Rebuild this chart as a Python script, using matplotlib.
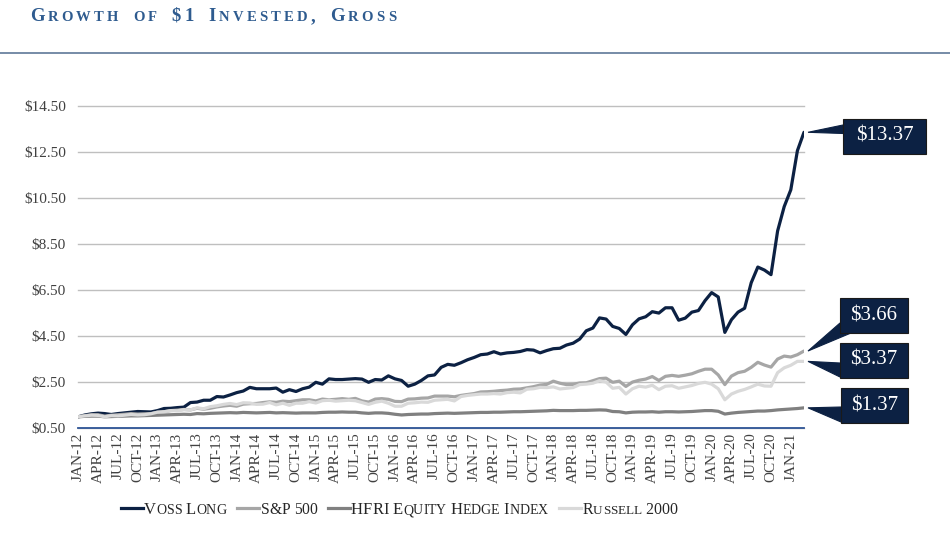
import matplotlib
matplotlib.use("Agg")
import matplotlib.pyplot as plt
from matplotlib.lines import Line2D
from matplotlib.patches import Polygon

# ---------------- data ----------------
month_names = ["JAN", "FEB", "MAR", "APR", "MAY", "JUN",
               "JUL", "AUG", "SEP", "OCT", "NOV", "DEC"]
categories = [f"{m}-{y:02d}" for y in range(12, 22) for m in month_names][:111]

voss_long = [
    1.00, 1.08, 1.13, 1.16, 1.14, 1.10, 1.14, 1.17, 1.20, 1.23, 1.22, 1.21,
    1.27, 1.36, 1.37, 1.40, 1.42, 1.62, 1.64, 1.72, 1.72, 1.88, 1.86, 1.95,
    2.05, 2.12, 2.28, 2.22, 2.22, 2.22, 2.25, 2.07, 2.18, 2.10, 2.22, 2.29,
    2.50, 2.42, 2.65, 2.62, 2.62, 2.64, 2.66, 2.64, 2.50, 2.62, 2.60, 2.78,
    2.65, 2.58, 2.33, 2.42, 2.58, 2.78, 2.82, 3.15, 3.28, 3.24, 3.35, 3.48,
    3.58, 3.70, 3.73, 3.83, 3.73, 3.78, 3.80, 3.84, 3.92, 3.90, 3.78, 3.88,
    3.96, 3.98, 4.12, 4.20, 4.38, 4.74, 4.86, 5.30, 5.25, 4.93, 4.84, 4.58,
    5.00, 5.26, 5.35, 5.57, 5.51, 5.74, 5.74, 5.20, 5.29, 5.55, 5.62, 6.05,
    6.40, 6.21, 4.67, 5.22, 5.55, 5.72, 6.83, 7.51, 7.38, 7.18, 9.08, 10.14,
    10.87, 12.57, 13.37,
]
sp500 = [
    1.00, 1.05, 1.09, 1.09, 1.03, 1.07, 1.09, 1.11, 1.14, 1.12, 1.13, 1.14,
    1.20, 1.22, 1.27, 1.29, 1.32, 1.30, 1.37, 1.33, 1.37, 1.43, 1.47, 1.50,
    1.46, 1.55, 1.57, 1.58, 1.62, 1.65, 1.63, 1.68, 1.66, 1.70, 1.74, 1.74,
    1.69, 1.77, 1.74, 1.76, 1.79, 1.76, 1.80, 1.69, 1.64, 1.77, 1.79, 1.76,
    1.67, 1.66, 1.77, 1.78, 1.81, 1.82, 1.90, 1.90, 1.90, 1.87, 1.93, 1.97,
    2.01, 2.08, 2.09, 2.11, 2.14, 2.16, 2.20, 2.21, 2.26, 2.31, 2.38, 2.41,
    2.55, 2.46, 2.40, 2.41, 2.47, 2.48, 2.57, 2.66, 2.68, 2.50, 2.55, 2.32,
    2.51, 2.59, 2.64, 2.75, 2.58, 2.76, 2.80, 2.76, 2.81, 2.87, 2.98, 3.07,
    3.07, 2.82, 2.40, 2.77, 2.92, 2.98, 3.15, 3.37, 3.25, 3.16, 3.51, 3.64,
    3.60, 3.70, 3.86,
]
hfri_equity_hedge = [
    1.00, 1.02, 1.03, 1.03, 1.00, 1.01, 1.02, 1.03, 1.04, 1.04, 1.05, 1.06,
    1.07, 1.08, 1.09, 1.10, 1.11, 1.10, 1.14, 1.13, 1.15, 1.16, 1.17, 1.18,
    1.17, 1.19, 1.18, 1.17, 1.18, 1.19, 1.17, 1.18, 1.17, 1.16, 1.17, 1.17,
    1.17, 1.19, 1.20, 1.20, 1.21, 1.20, 1.20, 1.17, 1.15, 1.17, 1.17, 1.15,
    1.11, 1.08, 1.10, 1.11, 1.12, 1.12, 1.14, 1.15, 1.16, 1.15, 1.16, 1.17,
    1.18, 1.19, 1.19, 1.20, 1.20, 1.21, 1.22, 1.22, 1.23, 1.24, 1.25, 1.26,
    1.28, 1.27, 1.27, 1.27, 1.28, 1.28, 1.29, 1.30, 1.29, 1.23, 1.22, 1.17,
    1.20, 1.21, 1.21, 1.22, 1.20, 1.22, 1.22, 1.21, 1.22, 1.23, 1.25, 1.27,
    1.27, 1.24, 1.12, 1.16, 1.19, 1.21, 1.23, 1.25, 1.25, 1.27, 1.30, 1.32,
    1.34, 1.36, 1.39,
]
russell_2000 = [
    1.00, 1.04, 1.07, 1.06, 1.00, 1.05, 1.04, 1.07, 1.10, 1.08, 1.09, 1.13,
    1.20, 1.22, 1.27, 1.26, 1.31, 1.30, 1.39, 1.35, 1.44, 1.48, 1.54, 1.58,
    1.53, 1.61, 1.60, 1.54, 1.55, 1.62, 1.52, 1.59, 1.50, 1.59, 1.59, 1.66,
    1.60, 1.70, 1.72, 1.68, 1.70, 1.72, 1.70, 1.62, 1.54, 1.63, 1.68, 1.59,
    1.46, 1.46, 1.59, 1.61, 1.64, 1.63, 1.72, 1.74, 1.76, 1.69, 1.88, 1.93,
    1.96, 1.99, 1.99, 2.01, 1.99, 2.05, 2.07, 2.04, 2.20, 2.22, 2.28, 2.27,
    2.30, 2.21, 2.24, 2.27, 2.40, 2.42, 2.46, 2.57, 2.51, 2.24, 2.28, 1.99,
    2.22, 2.33, 2.29, 2.37, 2.18, 2.33, 2.35, 2.24, 2.30, 2.36, 2.45, 2.50,
    2.42, 2.22, 1.74, 1.99, 2.11, 2.19, 2.30, 2.42, 2.34, 2.33, 2.92, 3.13,
    3.24, 3.41, 3.41,
]
series_names = ["Voss Long", "S&P 500", "HFRI Equity Hedge Index", "Russell 2000"]
callout_labels = ["$13.37", "$3.66", "$3.37", "$1.37"]
y_ticks = [0.5, 2.5, 4.5, 6.5, 8.5, 10.5, 12.5, 14.5]
title_text = "Growth of $1 Invested, Gross"

# ---------------- style ----------------
NAVY = "#0C2143"
COLORS = [NAVY, "#A6A6A6", "#808080", "#D9D9D9"]
SERIF = ["Liberation Serif", "DejaVu Serif"]
TXT = "#404040"

W, H = 950, 533
fig = plt.figure(figsize=(W / 100, H / 100), dpi=100)
fig.patch.set_facecolor("white")


def fx(px):
    return px / W


def fy(py):
    return 1 - py / H


L, R, T, B = 78.3, 804.0, 106.3, 428.3
ax = fig.add_axes([fx(L), fy(B), fx(R) - fx(L), fy(T) - fy(B)])

xs = list(range(len(voss_long)))
for vals, col in zip([voss_long, sp500, hfri_equity_hedge, russell_2000], COLORS):
    ax.plot(xs, vals, color=col, lw=2.3, solid_joinstyle="round",
            solid_capstyle="round", zorder=3)

ax.set_xlim(0, len(voss_long) - 1)
ax.set_ylim(y_ticks[0], y_ticks[-1])
ax.set_yticks(y_ticks)
ax.set_yticklabels([f"${v:.2f}" for v in y_ticks], family=SERIF,
                   fontsize=11, color=TXT)
ax.yaxis.grid(True, color="#BFBFBF", lw=1.0, zorder=0)
ax.set_axisbelow(True)
for s in ["left", "right", "top"]:
    ax.spines[s].set_visible(False)
ax.spines["bottom"].set_color("#2F5597")
ax.spines["bottom"].set_linewidth(1.3)
ax.tick_params(axis="y", length=0, pad=9)
ax.set_xticks(xs[::3])
ax.set_xticklabels(categories[::3], rotation=90, family=SERIF,
                   fontsize=11, color=TXT)
ax.tick_params(axis="x", length=0, pad=3)
for gl in ax.get_ygridlines():
    gl.set_clip_on(False)

renderer = fig.canvas.get_renderer()


def small_caps(x0, y0, text, big, small, color, weight="normal",
               fit_width=None, space_em=0.3, tracking=0.0):
    """Draw text in small capitals; optionally scale so it spans fit_width px.
    Returns the right edge (px)."""
    items = []
    for ch in text:
        if ch == " ":
            items.append([None, 0.0, big])
            continue
        size = small if ch.islower() else big
        t = fig.text(0, 0, ch.upper(), fontsize=size, color=color,
                     fontweight=weight, family=SERIF, ha="left",
                     va="baseline")
        items.append([t, 0.0, size])

    def measure(k):
        for it in items:
            if it[0] is None:
                it[1] = space_em * big * k * 100 / 72
            else:
                it[0].set_fontsize(it[2] * k)
                it[1] = it[0].get_window_extent(renderer).width
        return sum(it[1] for it in items) + tracking * (len(items) - 1)

    natural = measure(1.0)
    if fit_width is not None:
        measure(fit_width / natural)
    x = x0
    for t, w, _ in items:
        if t is not None:
            t.set_position((fx(x), fy(y0)))
        x += w + tracking
    return x - tracking


# ---------------- title ----------------
small_caps(30, 21, title_text, 13.5, 10.5, "#2E5B8F", weight="bold",
           tracking=3.2, space_em=0.45)
fig.add_artist(Line2D([0, 1], [fy(52.5), fy(52.5)], color="#5F7898",
                      lw=1.2, transform=fig.transFigure))

# ---------------- legend ----------------
legend_w = [83, 57, 198, 95]
seg_len, seg_gap, item_gap = 22, 1.5, 10
total = sum(legend_w) + len(legend_w) * (seg_len + seg_gap) + (len(legend_w) - 1) * item_gap
lx = 399 - total / 2
leg_y = 508
for lw_, name, col in zip(legend_w, series_names, COLORS):
    fig.add_artist(Line2D([fx(lx), fx(lx + seg_len)], [fy(leg_y), fy(leg_y)],
                          color=col, lw=2.3, transform=fig.transFigure))
    small_caps(lx + seg_len + seg_gap, leg_y + 6.5, name, 12.5, 10.5,
               "#262626", fit_width=lw_, space_em=0.25)
    lx += seg_len + seg_gap + lw_ + item_gap

# ---------------- callouts ----------------
last_vals = [voss_long[-1], sp500[-1], russell_2000[-1], hfri_equity_hedge[-1]]
boxes = [  # (left, top, right, bottom) in px
    (843, 119, 926, 154),
    (840, 298, 908, 333),
    (840, 343, 908, 378),
    (841, 388, 908, 423),
]
wedge_bases = [
    [(843, 125), (843, 133.5)],
    [(840, 323), (851, 333)],
    [(840, 363), (840, 377)],
    [(841, 407), (841, 422)],
]
for val, lab, (l, t, r, b), base in zip(last_vals, callout_labels, boxes, wedge_bases):
    disp = ax.transData.transform((xs[-1], val))
    tip = (disp[0] + 4, H - disp[1])
    pts = [tip, base[0], base[1]]
    fig.add_artist(Polygon([(fx(px), fy(py)) for px, py in pts], closed=True,
                           facecolor=NAVY, edgecolor=NAVY, lw=0.8,
                           transform=fig.transFigure))
    rect = [(l, t), (r, t), (r, b), (l, b)]
    fig.add_artist(Polygon([(fx(px), fy(py)) for px, py in rect], closed=True,
                           facecolor=NAVY, edgecolor="#1a1a1a", lw=0.8,
                           transform=fig.transFigure))
    fig.text(fx((l + r) / 2), fy((t + b) / 2), lab, color="white",
             fontsize=15, family=SERIF, ha="center", va="center")

fig.savefig("out.png", dpi=100, facecolor="white")
